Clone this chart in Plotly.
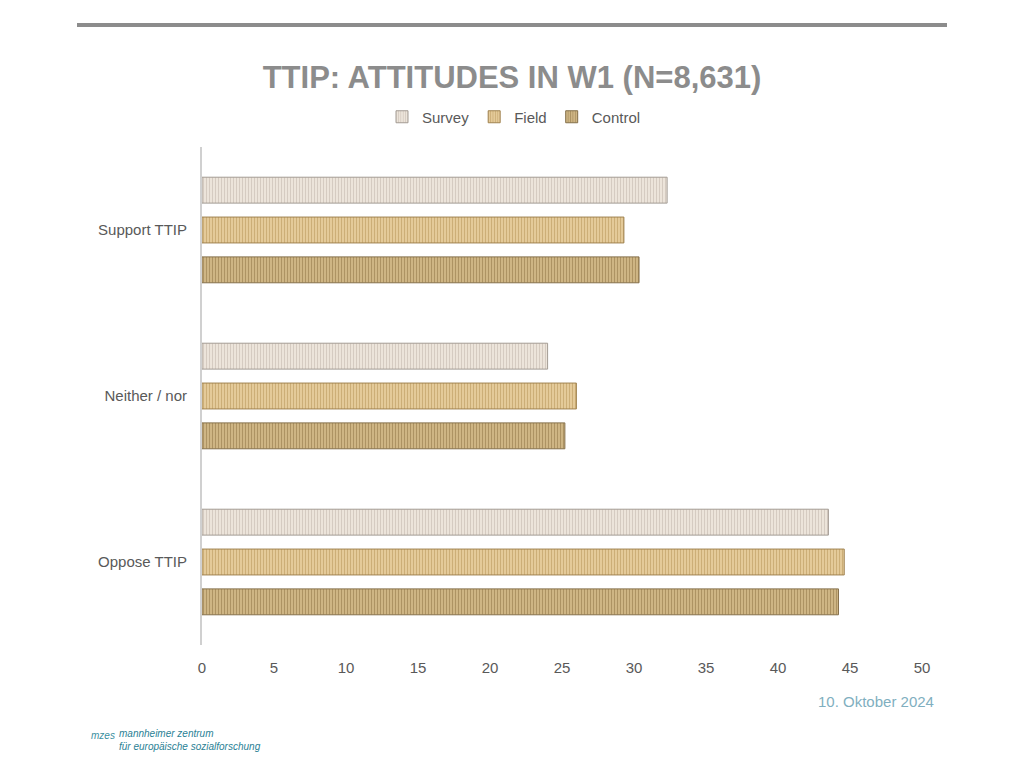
import plotly.graph_objects as go

categories = ["Oppose TTIP", "Neither / nor", "Support TTIP"]
survey = [43.5, 24.0, 32.3]
field = [44.6, 26.0, 29.3]
control = [44.2, 25.2, 30.35]
x_ticks = [0, 5, 10, 15, 20, 25, 30, 35, 40, 45, 50]

# page renders with an ~8px offset; positions below are reference pixels minus 8
OFF = 8
PL, PR, PT, PB = 202 - OFF, 922 - OFF, 147 - OFF, 645 - OFF
W, H = 1024, 768


def px(x):
    return (x - OFF - PL) / (PR - PL)


def py(y):
    return (PB - (y - OFF)) / (PB - PT)


fig = go.Figure()
fig.add_trace(go.Bar(
    name="Control", y=categories, x=control, orientation="h",
    marker=dict(color="#dcc392", line=dict(color="#85704a", width=1),
                pattern=dict(shape="|", fgcolor="#7d6434", size=3, solidity=0.55)),
))
fig.add_trace(go.Bar(
    name="Field", y=categories, x=field, orientation="h",
    marker=dict(color="#eed7a8", line=dict(color="#a08350", width=1),
                pattern=dict(shape="|", fgcolor="#a98546", size=3, solidity=0.55)),
))
fig.add_trace(go.Bar(
    name="Survey", y=categories, x=survey, orientation="h",
    marker=dict(color="#f3ebe2", line=dict(color="#a39b93", width=1),
                pattern=dict(shape="|", fgcolor="#b8ac9f", size=3, solidity=0.5)),
))

fig.update_layout(
    width=W, height=H,
    paper_bgcolor="white", plot_bgcolor="white",
    margin=dict(l=PL, r=W - PR, t=PT, b=H - PB),
    barmode="group", bargap=0.28, bargroupgap=0.35,
    font=dict(family="Liberation Sans, Arial, sans-serif", color="#595959", size=15),
    title=dict(text="<b>TTIP: ATTITUDES IN W1 (N=8,631)</b>", x=(512 - OFF) / W, xref="container",
               xanchor="center", y=1 - (77 - OFF) / H, yanchor="middle",
               font=dict(size=31, color="#8c8c8c", family="Liberation Sans, Arial, sans-serif")),
    legend=dict(orientation="h", x=(514 - OFF) / W, xref="container", xanchor="center",
                y=1 - (117 - OFF) / H, yref="container", yanchor="middle",
                traceorder="reversed", font=dict(size=15, color="#595959"),
                itemwidth=30),
    xaxis=dict(range=[0, 50], tickvals=x_ticks, showgrid=False, zeroline=False,
               showline=False, ticks="outside", ticklen=9, tickcolor="rgba(0,0,0,0)",
               tickfont=dict(size=15, color="#595959")),
    yaxis=dict(showgrid=False, zeroline=False, showline=True, linecolor="#d0d0d0",
               linewidth=2, ticks="outside", ticklen=10, tickcolor="rgba(0,0,0,0)",
               tickfont=dict(size=15, color="#595959")),
    showlegend=True,
)

# Top gray rule
fig.add_shape(type="rect", xref="paper", yref="paper",
              x0=px(77), x1=px(947), y0=py(27), y1=py(23),
              fillcolor="#8c8c8c", line=dict(width=0), layer="above")

fig.add_annotation(text="10. Oktober 2024", xref="paper", yref="paper",
                   x=px(936), y=py(701), xanchor="right", yanchor="middle",
                   showarrow=False, font=dict(size=15, color="#7fafc0"))

fig.add_annotation(text="<i>mzes</i>", xref="paper", yref="paper",
                   x=px(89), y=py(735), xanchor="left", yanchor="middle",
                   showarrow=False, font=dict(size=10, color="#3a8fa0"))
fig.add_annotation(text="<i>mannheimer zentrum<br>für europäische sozialforschung</i>",
                   xref="paper", yref="paper", align="left",
                   x=px(117), y=py(740), xanchor="left", yanchor="middle",
                   showarrow=False, font=dict(size=10, color="#2a7f95"))

fig.write_html("out.html")
